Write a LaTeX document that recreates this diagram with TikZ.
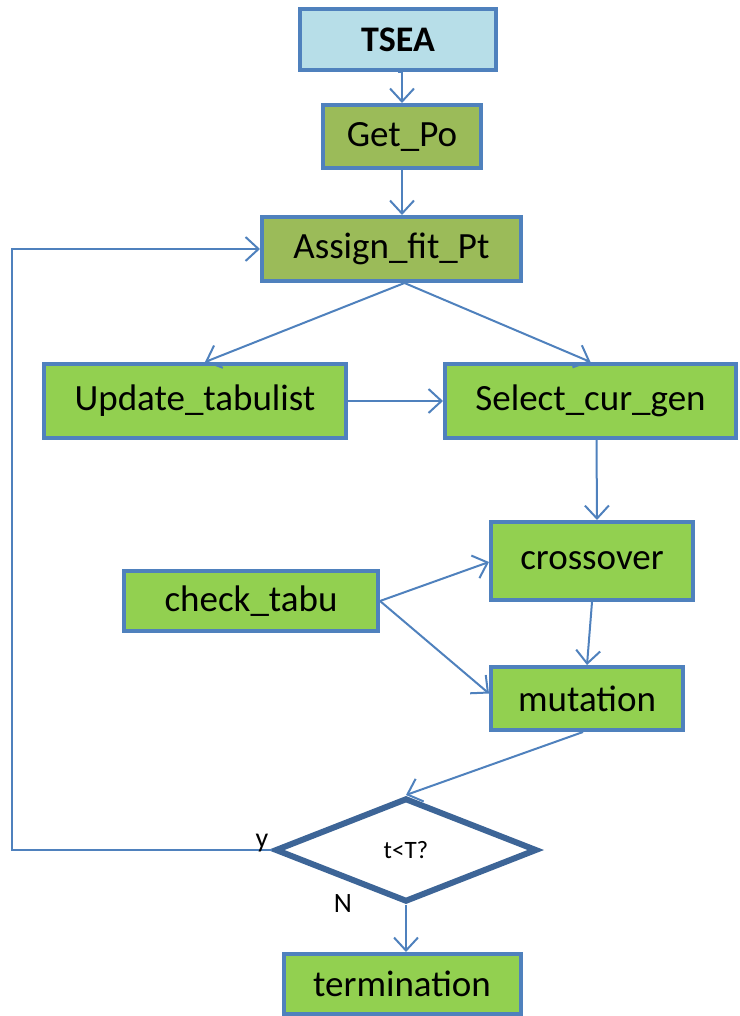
\documentclass[tikz,border=0pt]{standalone}
\usepackage{fontspec}
\setmainfont{Carlito}
\usetikzlibrary{arrows.meta,shapes.geometric,calc}
\definecolor{edgeblue}{HTML}{4F81BD}
\definecolor{darkblue}{HTML}{3D6597}
\definecolor{paleblue}{HTML}{B7DEE8}
\definecolor{olive}{HTML}{9BBB59}
\definecolor{leaf}{HTML}{92D050}
\tikzset{
  box/.style={draw=edgeblue, line width=4pt, rectangle, inner sep=0pt,
    font=\fontsize{37}{42}\selectfont, text=black},
  flow/.style={draw=edgeblue, line width=2pt,
    -{Straight Barb[length=13pt,width=24pt,line width=2pt]}},
  tag/.style={font=\fontsize{28}{32}\selectfont, text=black, inner sep=0pt}
}
\begin{document}
\begin{tikzpicture}[x=1pt,y=-1pt]
\useasboundingbox (0,0) rectangle (739,1016);

% process boxes
\node[box, fill=paleblue, minimum width=196pt, minimum height=61pt,
  font=\fontsize{36}{40}\selectfont\bfseries] (tsea) at (398,39.5) {TSEA};
\node[box, fill=olive, minimum width=158pt, minimum height=63pt] (getpo) at (402,136.5) {Get\_Po};
\node[box, fill=olive, minimum width=259pt, minimum height=64pt] (assign) at (391.5,249) {Assign\_fit\_Pt};
\node[box, fill=leaf, minimum width=302pt, minimum height=74pt] (update) at (195,401) {Update\_tabulist};
\node[box, fill=leaf, minimum width=291pt, minimum height=74pt] (select) at (590.5,401) {Select\_cur\_gen};
\node[box, fill=leaf, minimum width=202pt, minimum height=78pt] (cross) at (592,561) {crossover};
\node[box, fill=leaf, minimum width=254pt, minimum height=60pt] (check) at (251,601) {check\_tabu};
\node[box, fill=leaf, minimum width=192pt, minimum height=63pt] (mut) at (587,698.5) {mutation};

% decision
\node[diamond, draw=darkblue, line width=6pt, fill=white, inner sep=0pt,
  minimum width=262pt, minimum height=104pt,
  font=\fontsize{25}{29}\selectfont] (test) at (406,850) {t<T?};

\node[box, fill=leaf, minimum width=237pt, minimum height=60pt] (term) at (402,984) {termination};

% main flow
\draw[flow] (tsea.south) -- (getpo.south |- tsea.south) -- (getpo.north);
\draw[flow] (getpo.south) -- (getpo.south |- assign.north);
\coordinate (split) at ($(assign.south)+(13,0)$);
\draw[flow] (split) -- ($(update.north)+(10,0)$);
\draw[flow] (split) -- (select.north);
\draw[flow] (update.east) -- (select.west);
\draw[flow] ($(select.south)+(6,0)$) -- ($(cross.north)+(5,0)$);
\draw[flow] (check.east) -- ($(cross.west)+(0,1)$);
\draw[flow] (check.east) -- ($(mut.west)+(0,-5)$);
\draw[flow] (cross.south) -- (mut.north);
\draw[flow] ($(mut.south)+(-4,0)$) -- (test.north);
\draw[flow] (test.south) -- (term.north -| test.south);

% loop back
\coordinate (corner) at (12,850);
\draw[flow] (test.west) -- (corner) -- (corner |- assign.west) -- (assign.west);

% branch labels
\node[tag] (ylab) at (262,843) {y};
\node[tag] (nlab) at (343,904) {N};
\end{tikzpicture}
\end{document}
